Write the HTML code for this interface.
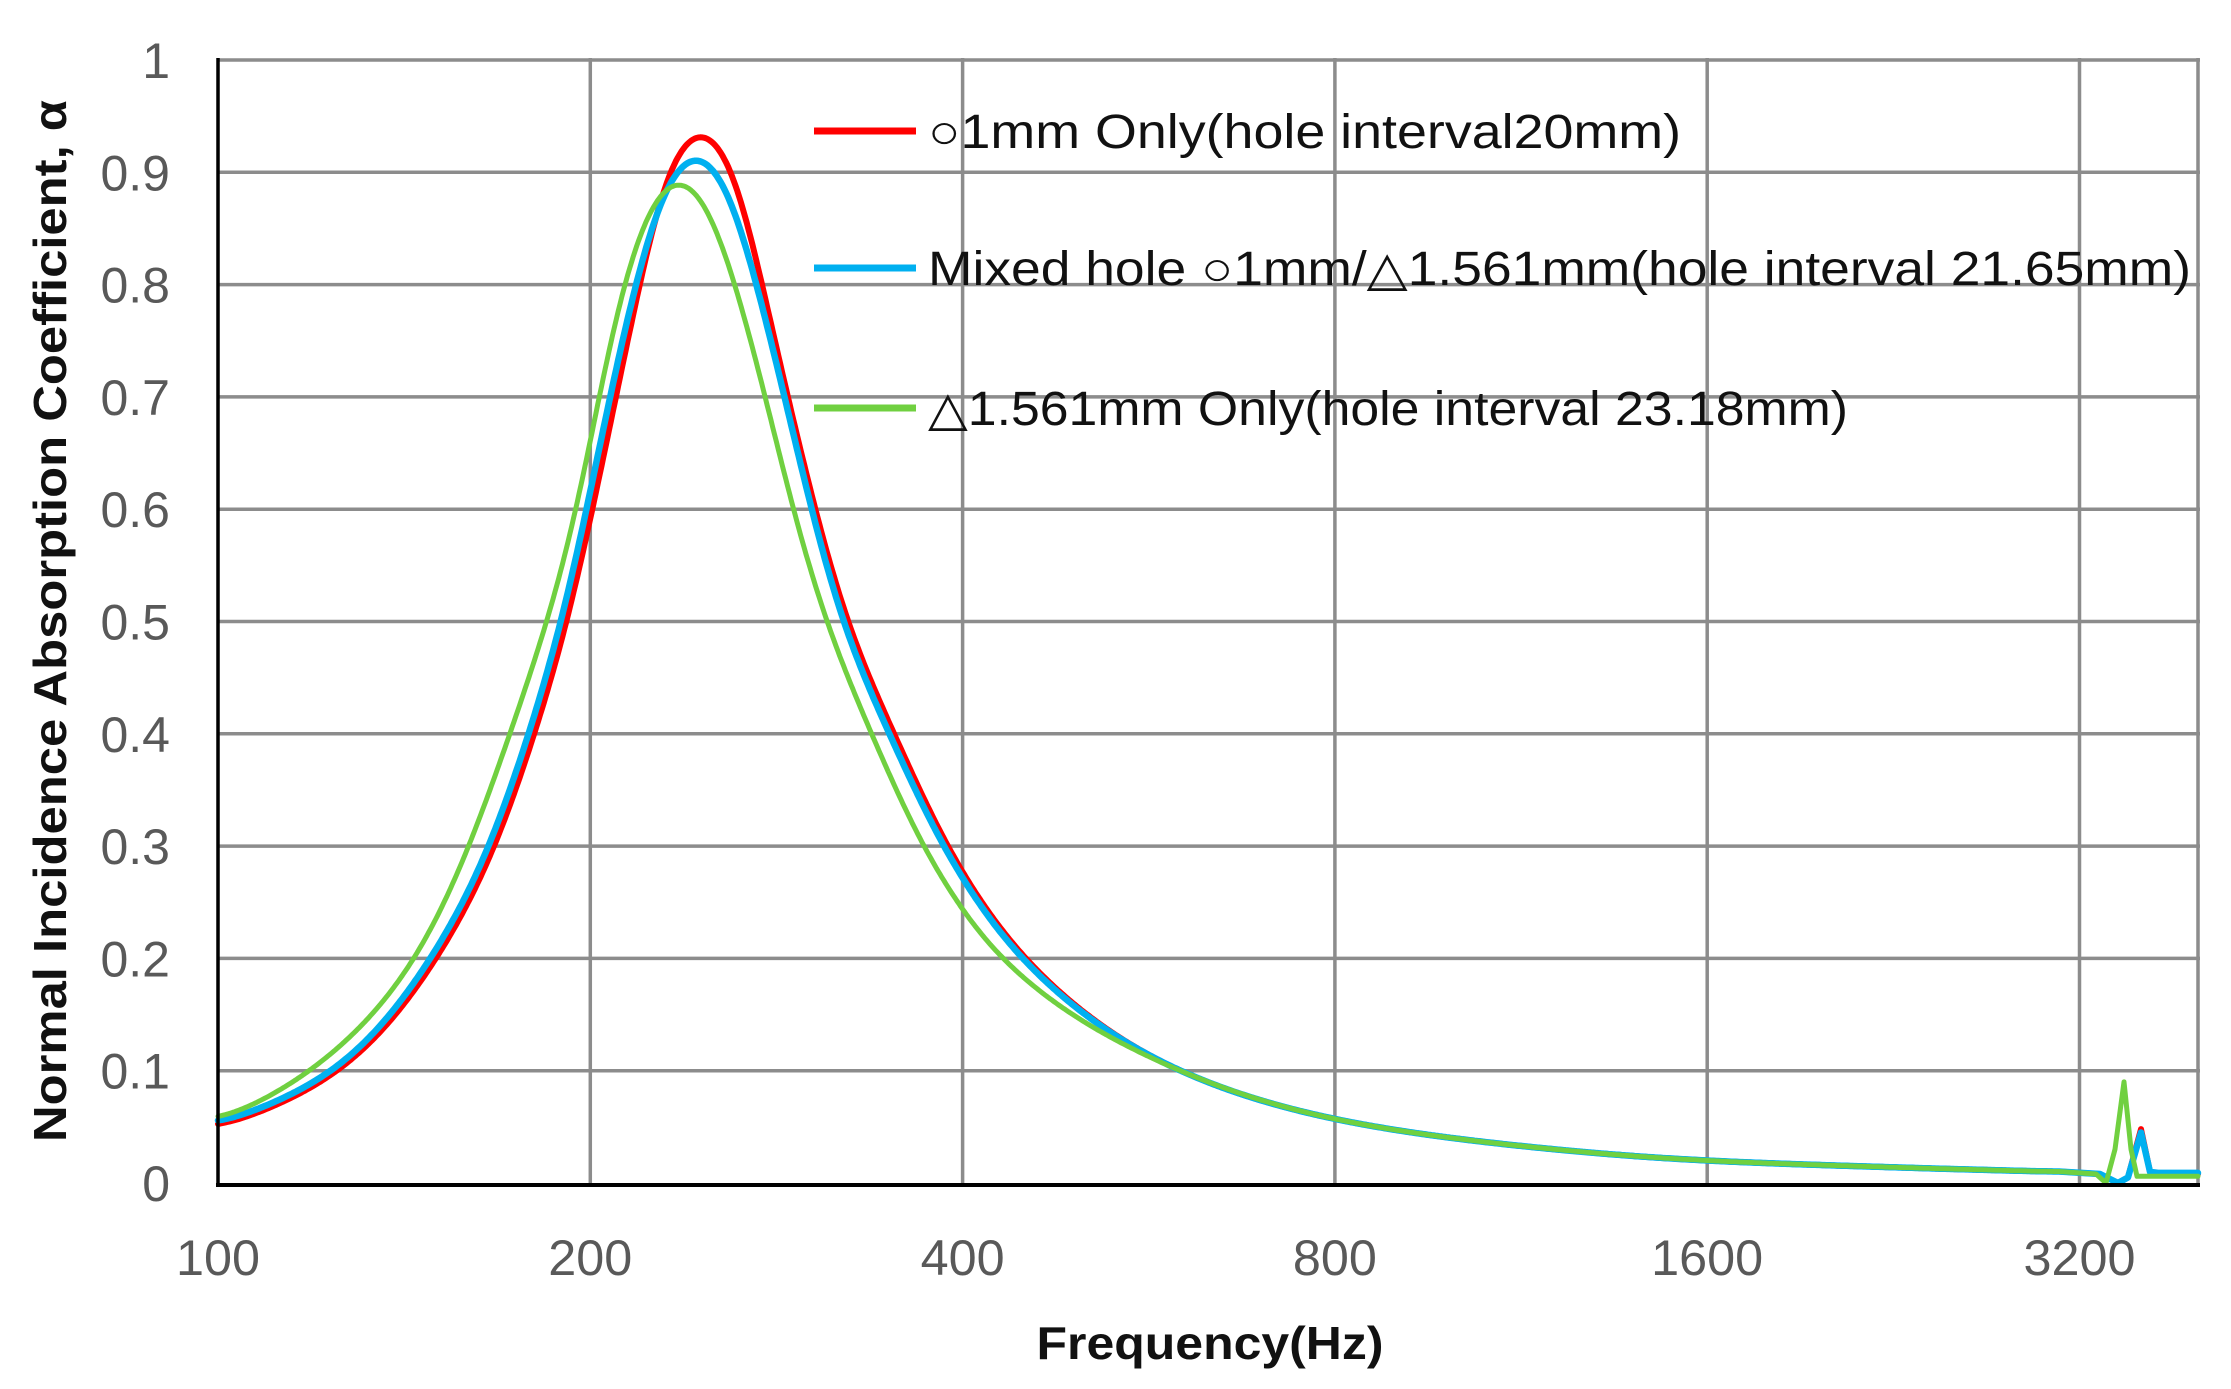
<!DOCTYPE html>
<html><head><meta charset="utf-8"><style>
html,body{margin:0;padding:0;background:#fff;}
svg{display:block;}
</style></head><body>
<svg id="c" width="2231" height="1389" viewBox="0 0 2231 1389" xmlns="http://www.w3.org/2000/svg">
<rect width="2231" height="1389" fill="#fff"/>
<g id="grid" stroke="#8c8c8c" stroke-width="3.5"></g>
<g id="series" fill="none" stroke-linejoin="round" stroke-linecap="round"></g>
<line x1="218" y1="58" x2="218" y2="1185" stroke="#000" stroke-width="3.5"/>
<line x1="216" y1="1185" x2="2200" y2="1185" stroke="#000" stroke-width="4"/>
<g id="ylab" font-family="Liberation Sans, sans-serif" font-size="50" fill="#595959" text-anchor="end"></g>
<g id="xlab" font-family="Liberation Sans, sans-serif" font-size="50" fill="#595959" text-anchor="middle"></g>
<g font-family="Liberation Sans, DejaVu Sans, sans-serif" font-size="48" fill="#111">
<line x1="814" y1="131" x2="916" y2="131" stroke="#ff0000" stroke-width="7"/>
<line x1="814" y1="268" x2="916" y2="268" stroke="#00b0f0" stroke-width="7"/>
<line x1="814" y1="408" x2="916" y2="408" stroke="#70d040" stroke-width="7"/>
<text x="928" y="148" textLength="753" lengthAdjust="spacingAndGlyphs">○1mm Only(hole interval20mm)</text>
<text x="928" y="285" textLength="1263" lengthAdjust="spacingAndGlyphs">Mixed hole ○1mm/△1.561mm(hole interval 21.65mm)</text>
<text x="928" y="425" textLength="920" lengthAdjust="spacingAndGlyphs">△1.561mm Only(hole interval 23.18mm)</text>
</g>
<text x="1210" y="1359" text-anchor="middle" font-family="Liberation Sans, sans-serif" font-weight="bold" font-size="46" fill="#111" textLength="347" lengthAdjust="spacingAndGlyphs">Frequency(Hz)</text>
<text transform="translate(66,621) rotate(-90)" text-anchor="middle" font-family="Liberation Sans, DejaVu Sans, sans-serif" font-weight="bold" font-size="46" fill="#111" textLength="1042" lengthAdjust="spacingAndGlyphs">Normal Incidence Absorption Coefficient, α</text>
</svg>
<script>
(function(){
var NS="http://www.w3.org/2000/svg";
var X0=218,OCT=372.3,YT=60,YB=1183;
function ox(o){return X0+OCT*o;}
function fx(f){return X0+OCT*Math.log2(f/100);}
function fy(a){return YB-(YB-YT)*a;}
var g=document.getElementById('grid');
function ln(x1,y1,x2,y2){var l=document.createElementNS(NS,'line');l.setAttribute('x1',x1);l.setAttribute('y1',y1);l.setAttribute('x2',x2);l.setAttribute('y2',y2);g.appendChild(l);}
for(var i=1;i<=10;i++){var y=fy(i/10);ln(218,y,2200,y);}
[200,400,800,1600,3200].forEach(function(f){ln(fx(f),58,fx(f),1185);});
ln(2198,58,2198,1185);
var yl=document.getElementById('ylab');
for(var i=0;i<=10;i++){var t=document.createElementNS(NS,'text');t.setAttribute('x',170);t.setAttribute('y',fy(i/10)+18);t.textContent=(i==0?'0':(i==10?'1':'0.'+i));yl.appendChild(t);}
var xl=document.getElementById('xlab');
[100,200,400,800,1600,3200].forEach(function(f){var t=document.createElementNS(NS,'text');t.setAttribute('x',fx(f));t.setAttribute('y',1275);t.setAttribute('textLength',String(f).length*28);t.setAttribute('lengthAdjust','spacingAndGlyphs');t.textContent=f;xl.appendChild(t);});
function mono(xs,ys){var n=xs.length,d=[],m=[];for(var i=0;i<n-1;i++)d.push((ys[i+1]-ys[i])/(xs[i+1]-xs[i]));m[0]=d[0];m[n-1]=d[n-2];for(i=1;i<n-1;i++){if(d[i-1]*d[i]<=0)m[i]=0;else m[i]=2/(1/d[i-1]+1/d[i]);}
 return function(x){var k=0;while(k<n-2&&x>xs[k+1])k++;var h=xs[k+1]-xs[k],t=(x-xs[k])/h,t2=t*t,t3=t2*t;return (2*t3-3*t2+1)*ys[k]+(t3-2*t2+t)*h*m[k]+(-2*t3+3*t2)*ys[k+1]+(t3-t2)*h*m[k+1];};}
function lg(a){return Math.log(a/(1-a));}
function il(z){return 1/(1+Math.exp(-z));}
var tail=[[2.585,0.1],[3.0,0.057],[3.5,0.033],[4.0,0.02],[4.5,0.014],[4.95,0.01]];
var S=[
 {col:'#ff0000',w:6,pts:[[0,0.05],[0.321,0.1],[0.585,0.2],[0.745,0.3],[0.849,0.4],[0.943,0.5],[1.009,0.6],[1.142,0.8],[1.298,0.95],[1.45,0.8],[1.60,0.6],[1.684,0.5],[1.818,0.4],[1.958,0.3],[2.168,0.2]],
  bump:[[2100,0.008],[2118,0.0],[2128,0.005],[2141,0.048],[2150,0.01],[2158,0.008],[2198,0.008]]},
 {col:'#00b0f0',w:6.5,pts:[[0,0.053],[0.305,0.1],[0.57,0.2],[0.73,0.3],[0.834,0.4],[0.928,0.5],[0.994,0.6],[1.127,0.8],[1.285,0.928],[1.44,0.8],[1.59,0.6],[1.672,0.5],[1.805,0.4],[1.948,0.3],[2.16,0.2]],
  bump:[[2100,0.008],[2118,0.0],[2128,0.005],[2141,0.045],[2150,0.01],[2158,0.009],[2198,0.009]]},
 {col:'#70d040',w:5,pts:[[0,0.056],[0.245,0.1],[0.528,0.2],[0.783,0.4],[0.972,0.6],[1.09,0.8],[1.24,0.906],[1.385,0.8],[1.54,0.6],[1.63,0.5],[1.757,0.4],[1.894,0.3],[2.106,0.2]],
  bump:[[2096,0.008],[2106,0.0],[2115,0.03],[2124,0.09],[2131,0.03],[2137,0.006],[2198,0.006]]}
];
var sg=document.getElementById('series');
S.forEach(function(s){
 var all=s.pts.concat(tail);var xs=all.map(function(p){return p[0];}),ys=all.map(function(p){return lg(p[1]);});
 var F=mono(xs,ys);var step=0.005,raw=[],o;
 for(o=-0.4;o<=5.35;o+=step){var oo=Math.min(Math.max(o,0),4.95);raw.push(F(oo));}
 var sig=0.06/step,K=Math.ceil(sig*3),sm=[];
 for(var i=0;i<raw.length;i++){var sw=0,sv=0;for(var k=-K;k<=K;k++){var j=i+k;if(j<0||j>=raw.length)continue;var w=Math.exp(-k*k/(2*sig*sig));sw+=w;sv+=w*raw[j];}sm.push(sv/sw);}
 var d='';
 for(i=0;i<raw.length;i++){o=-0.4+i*step;if(o<0||o>4.95)continue;d+=(d?'L':'M')+ox(o).toFixed(1)+','+fy(il(sm[i])).toFixed(1);}
 s.bump.forEach(function(p){d+='L'+p[0]+','+fy(p[1]).toFixed(1);});
 var p=document.createElementNS(NS,'path');p.setAttribute('d',d);p.setAttribute('stroke',s.col);p.setAttribute('stroke-width',s.w);sg.appendChild(p);
});
})();
</script>
</body></html>
